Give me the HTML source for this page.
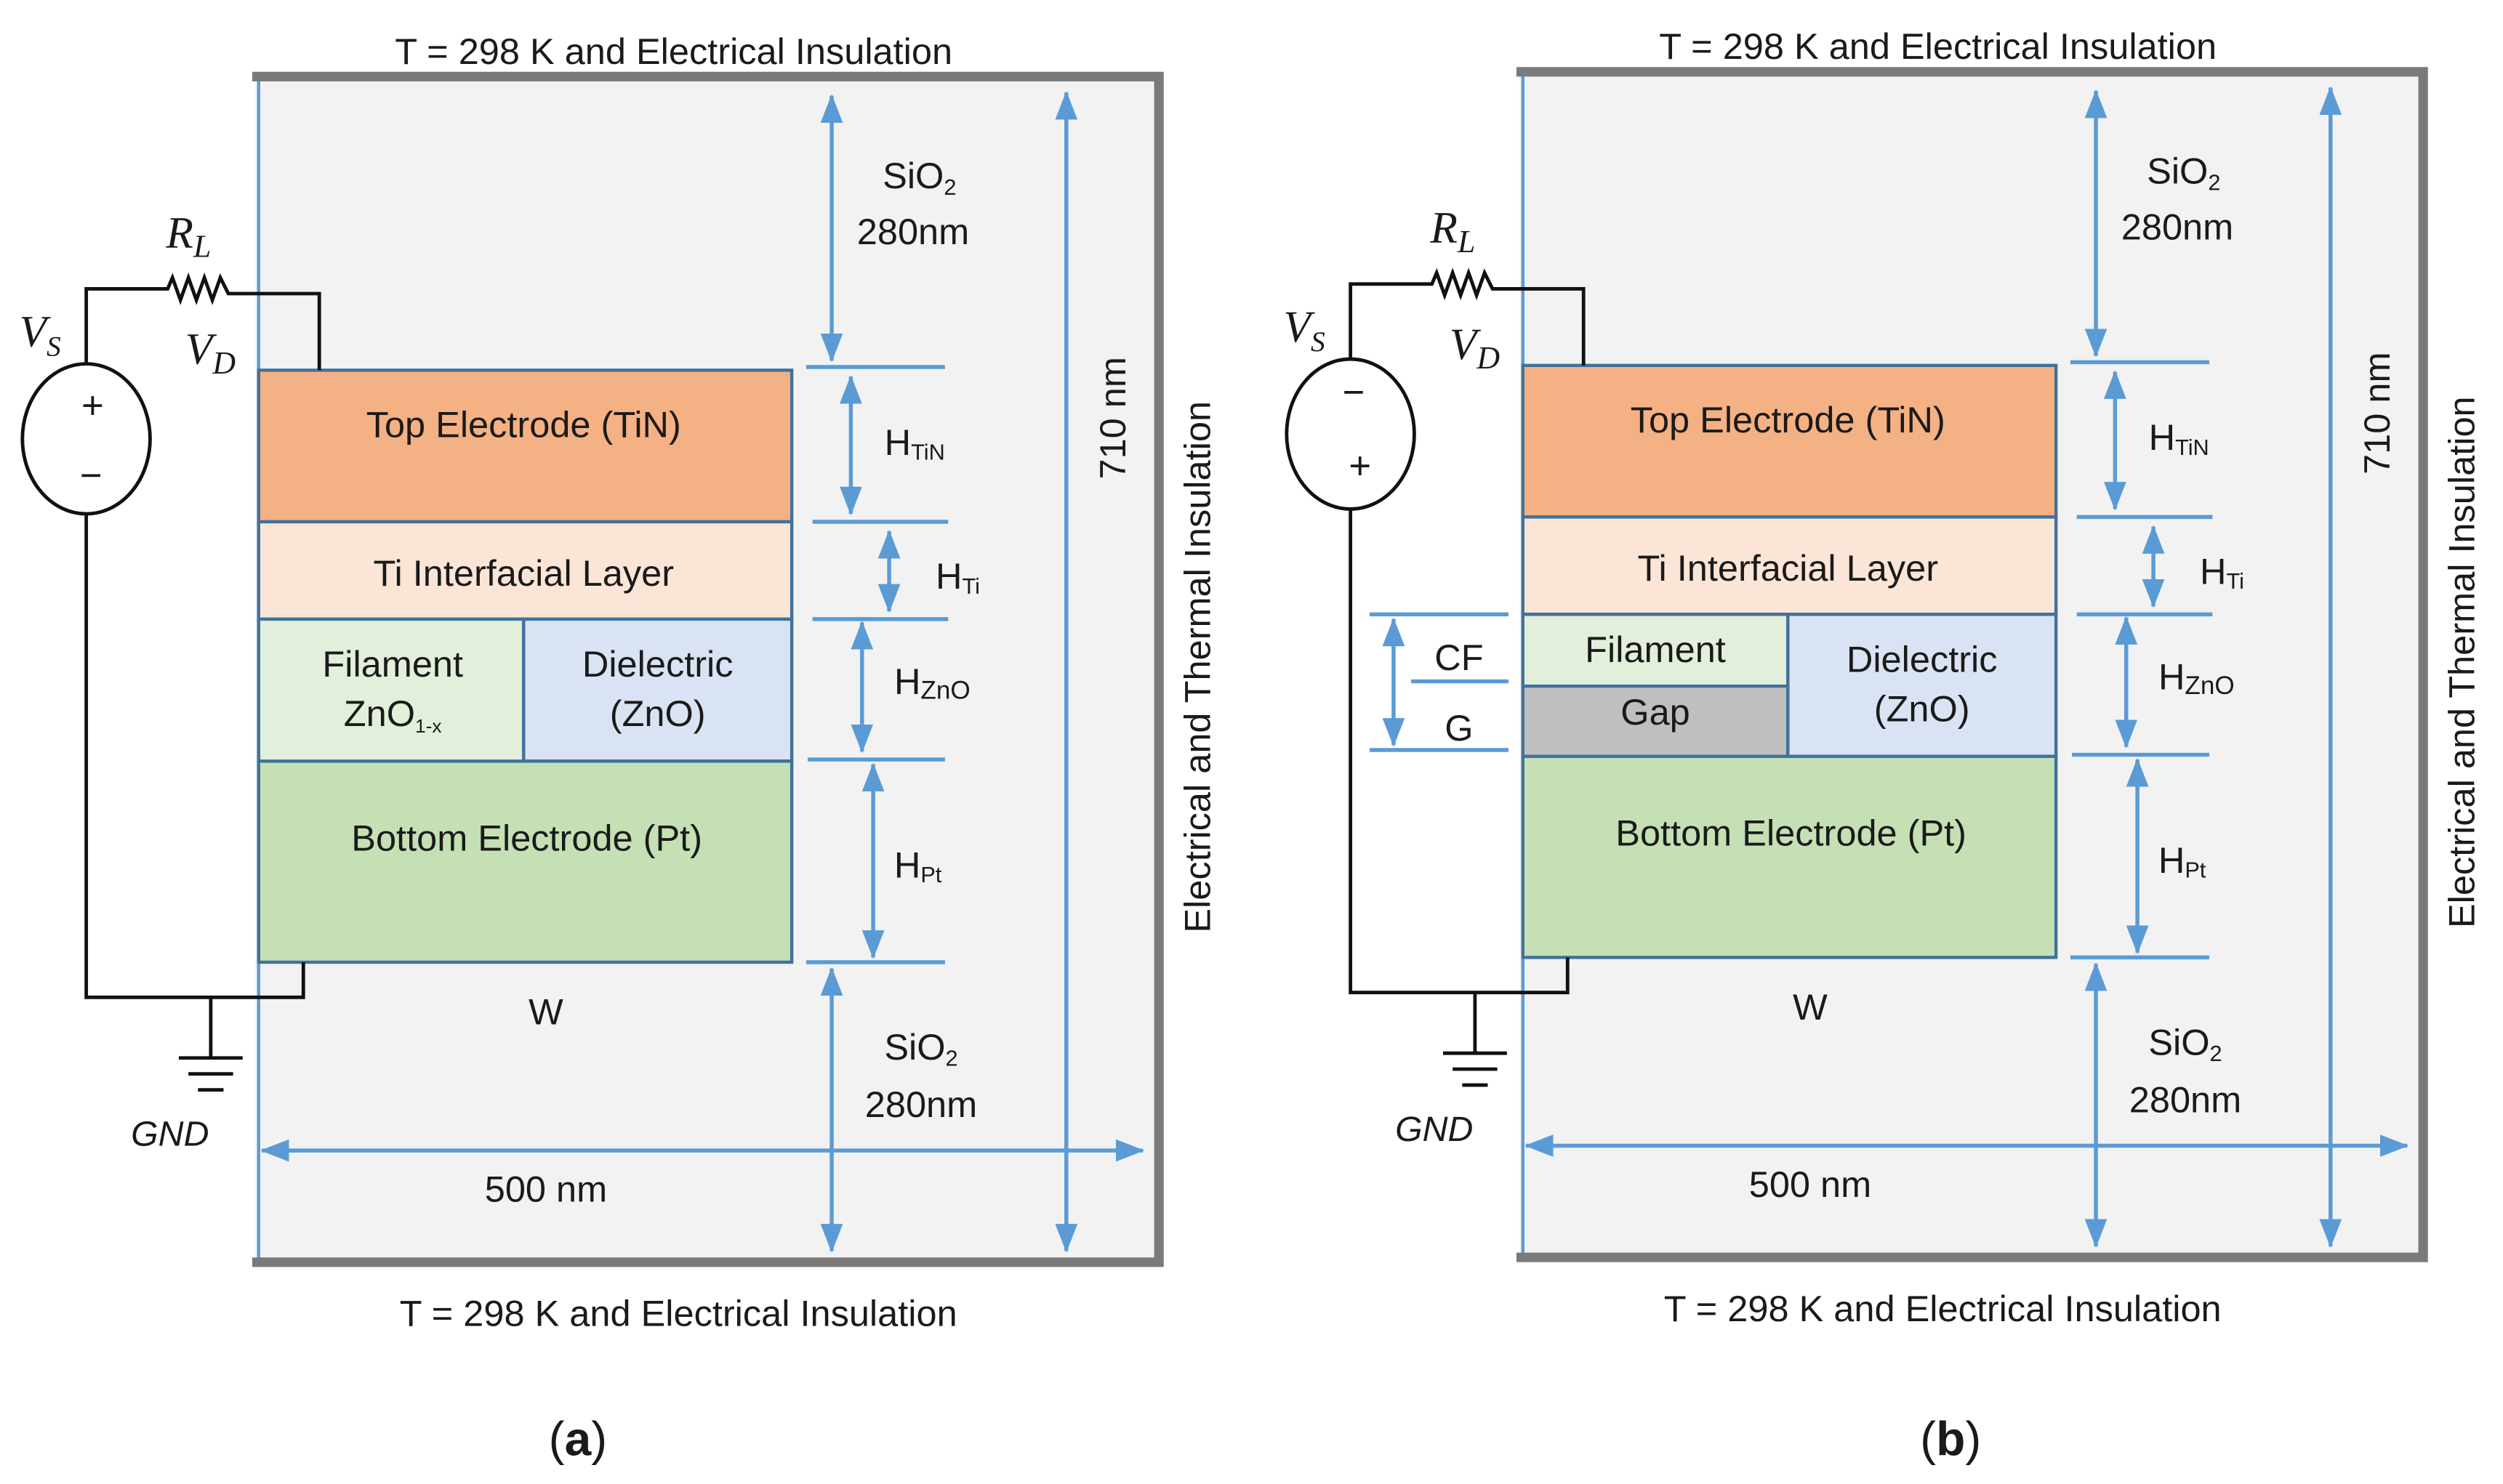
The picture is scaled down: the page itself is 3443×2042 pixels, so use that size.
<!DOCTYPE html>
<html><head><meta charset="utf-8"><style>
html,body{margin:0;padding:0;background:#fff;}
svg{display:block;}
text{font-family:"Liberation Sans",sans-serif;fill:#1a1a1a;}
.s{font-size:23px;text-anchor:middle;}
.m{font-family:"Liberation Serif",serif;font-style:italic;font-size:28px;}
</style></head><body>
<svg width="3443" height="2042" viewBox="0 0 1568 930" xmlns="http://www.w3.org/2000/svg">
<defs>
<marker id="ah" viewBox="0 0 18 14" refX="17" refY="7" markerWidth="18" markerHeight="14" orient="auto-start-reverse" markerUnits="userSpaceOnUse">
<path d="M0,0 L18,7 L0,14 z" fill="#5b9bd5"/></marker>
<g id="panel">
<rect x="160" y="50" width="566" height="741" fill="#f2f2f2"/>
<line x1="162" y1="50" x2="162" y2="790" stroke="#5b9bd5" stroke-width="2"/>
<path d="M158,48 H726 V791 H158" fill="none" stroke="#7a7a7a" stroke-width="6"/>
<g fill="none" stroke="#5b9bd5" stroke-width="2.5">
<line x1="521" y1="60" x2="521" y2="226" marker-start="url(#ah)" marker-end="url(#ah)"/>
<line x1="533" y1="236" x2="533" y2="322" marker-start="url(#ah)" marker-end="url(#ah)"/>
<line x1="557" y1="333" x2="557" y2="383" marker-start="url(#ah)" marker-end="url(#ah)"/>
<line x1="540" y1="390" x2="540" y2="471" marker-start="url(#ah)" marker-end="url(#ah)"/>
<line x1="547" y1="479" x2="547" y2="600" marker-start="url(#ah)" marker-end="url(#ah)"/>
<line x1="521" y1="607" x2="521" y2="784" marker-start="url(#ah)" marker-end="url(#ah)"/>
<line x1="668" y1="58" x2="668" y2="784" marker-start="url(#ah)" marker-end="url(#ah)"/>
<line x1="164" y1="721" x2="716" y2="721" marker-start="url(#ah)" marker-end="url(#ah)"/>
<line x1="505" y1="230" x2="592" y2="230"/>
<line x1="509" y1="327" x2="594" y2="327"/>
<line x1="509" y1="388" x2="594" y2="388"/>
<line x1="506" y1="476" x2="592" y2="476"/>
<line x1="505" y1="603" x2="592" y2="603"/>
</g>
<text class="s" x="576" y="118">SiO<tspan font-size="14" dy="4">2</tspan></text>
<text class="s" x="572" y="153">280nm</text>
<text class="s" x="573" y="285">H<tspan font-size="14" dy="3">TiN</tspan></text>
<text class="s" x="600" y="369">H<tspan font-size="14" dy="3">Ti</tspan></text>
<text class="s" x="584" y="435">H<tspan font-size="16" dy="3">ZnO</tspan></text>
<text class="s" x="575" y="550">H<tspan font-size="14" dy="3">Pt</tspan></text>
<text class="s" x="342" y="642">W</text>
<text class="s" x="577" y="664">SiO<tspan font-size="14" dy="4">2</tspan></text>
<text class="s" x="577" y="700">280nm</text>
<text class="s" x="342" y="753">500 nm</text>
<text class="s" transform="translate(705,262) rotate(-90)">710 nm</text>
<text class="s" x="422" y="40">T = 298 K and Electrical Insulation</text>
<text class="s" x="425" y="831">T = 298 K and Electrical Insulation</text>
<text class="s" transform="translate(758,418) rotate(-90)">Electrical and Thermal Insulation</text>
<g stroke="#41719c" stroke-width="2">
<rect x="162" y="232" width="334" height="95" fill="#f4b183"/>
<rect x="162" y="327" width="334" height="61" fill="#fbe5d6"/>
<rect x="328" y="388" width="168" height="89" fill="#dae3f3"/>
<rect x="162" y="477" width="334" height="126" fill="#c5e0b4"/>
</g>
<text class="s" x="328" y="274">Top Electrode (TiN)</text>
<text class="s" x="328" y="367">Ti Interfacial Layer</text>
<text class="s" x="412" y="424">Dielectric</text>
<text class="s" x="412" y="455">(ZnO)</text>
<text class="s" x="330" y="533">Bottom Electrode (Pt)</text>
<g fill="none" stroke="#111" stroke-width="2.2">
<ellipse cx="54" cy="275" rx="40" ry="47"/>
<polyline points="54,228 54,181 105,181 108,174 113,188 118,174 123,188 128,174 133,188 138,174 143,184 200,184 200,232"/>
<polyline points="54,322 54,625 190,625 190,603"/>
<line x1="132" y1="625" x2="132" y2="663"/>
<line x1="112" y1="663" x2="152" y2="663"/>
<line x1="118" y1="673" x2="146" y2="673"/>
<line x1="124" y1="683" x2="140" y2="683"/>
</g>
<text x="82" y="718" font-size="22" font-style="italic">GND</text>
<text class="m" x="104" y="155">R<tspan font-size="20" dy="6">L</tspan></text>
<text class="m" x="12" y="217">V<tspan font-size="18" dy="6">S</tspan></text>
<text class="m" x="116" y="228">V<tspan font-size="20" dy="6">D</tspan></text>
</g>
</defs>

<use href="#panel"/>
<g stroke="#41719c" stroke-width="2"><rect x="162" y="388" width="166" height="89" fill="#e2efda"/></g>
<text class="s" x="246" y="424" font-size="21">Filament</text>
<text class="s" x="246" y="455" font-size="21">ZnO<tspan font-size="12" dy="4">1-x</tspan></text>
<text x="58" y="262" font-size="24" text-anchor="middle">+</text>
<text x="57" y="306" font-size="24" text-anchor="middle">−</text>

<g transform="translate(792,-3)">
<use href="#panel"/>
<g stroke="#41719c" stroke-width="2">
<rect x="162" y="388" width="166" height="45" fill="#e2efda"/>
<rect x="162" y="433" width="166" height="44" fill="#bfbfbf"/>
</g>
<text class="s" x="245" y="418" font-size="17">Filament</text>
<text class="s" x="245" y="457" font-size="18">Gap</text>
<text x="56" y="257" font-size="24" text-anchor="middle">−</text>
<text x="60" y="303" font-size="24" text-anchor="middle">+</text>
<g fill="none" stroke="#5b9bd5" stroke-width="2.5">
<line x1="66" y1="388" x2="153" y2="388"/>
<line x1="92" y1="430" x2="153" y2="430"/>
<line x1="66" y1="473" x2="153" y2="473"/>
<line x1="81" y1="391" x2="81" y2="470" marker-start="url(#ah)" marker-end="url(#ah)"/>
</g>
<text class="s" x="122" y="423">CF</text>
<text class="s" x="122" y="467">G</text>
</g>

<text x="362" y="912" font-size="30" text-anchor="middle" font-family="Liberation Serif, serif">(<tspan font-weight="bold">a</tspan>)</text>
<text x="1222" y="912" font-size="30" text-anchor="middle" font-family="Liberation Serif, serif">(<tspan font-weight="bold">b</tspan>)</text>
</svg>
</body></html>
